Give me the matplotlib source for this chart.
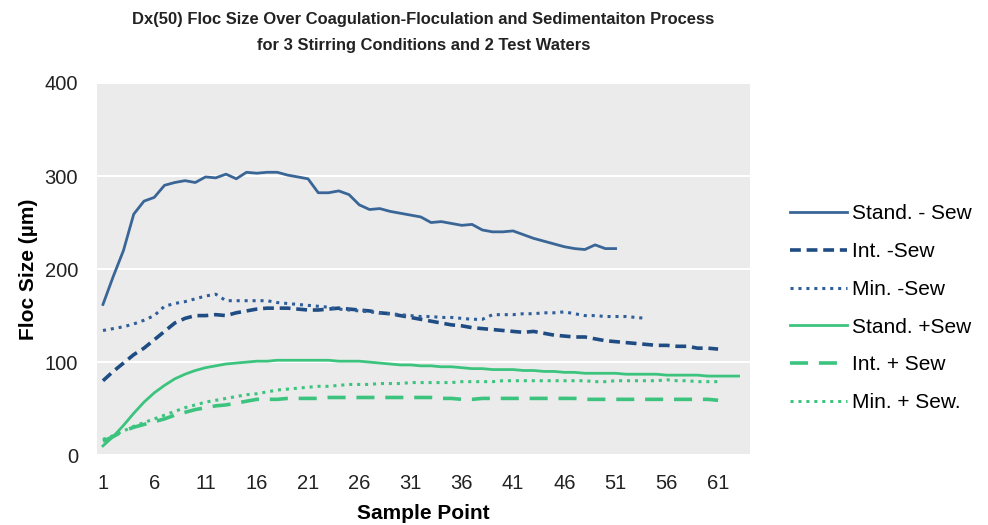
import matplotlib.pyplot as plt

plt.rcParams['font.family'] = ['Liberation Sans', 'DejaVu Sans']

# Dx(50) values, one list per series (sample point 1..n)
stand_minus = [162, 192, 220, 259, 273, 277, 290, 293, 295, 293,
               299, 298, 302, 297, 304, 303, 304, 304, 301, 299,
               297, 282, 282, 284, 280, 269, 264, 265, 262, 260,
               258, 256, 250, 251, 249, 247, 248, 242, 240, 240,
               241, 237, 233, 230, 227, 224, 222, 221, 226, 222, 222]
int_minus = [80, 90, 99, 108, 115, 124, 133, 142, 147, 150,
             150, 151, 150, 153, 155, 157, 158, 158, 158, 157,
             156, 156, 157, 158, 157, 156, 155, 153, 152, 150,
             148, 146, 144, 142, 140, 139, 137, 136, 135, 134,
             133, 132, 133, 131, 129, 128, 127, 127, 125, 123,
             122, 121, 120, 119, 118, 118, 117, 117, 115, 115, 114]
min_minus = [134, 136, 138, 141, 145, 150, 160, 163, 165, 168,
             171, 173, 166, 166, 166, 166, 166, 164, 163, 162,
             161, 160, 159, 157, 156, 155, 154, 153, 152, 151,
             150, 149, 149, 148, 148, 147, 146, 146, 151, 151,
             151, 152, 152, 153, 153, 154, 152, 150, 150, 149,
             149, 149, 148, 147]
stand_plus = [10, 20, 32, 45, 57, 67, 75, 82, 87, 91,
              94, 96, 98, 99, 100, 101, 101, 102, 102, 102,
              102, 102, 102, 101, 101, 101, 100, 99, 98, 97,
              97, 96, 96, 95, 95, 94, 93, 93, 92, 92,
              92, 91, 91, 90, 90, 89, 89, 88, 88, 88,
              88, 87, 87, 87, 87, 86, 86, 86, 86, 85,
              85, 85, 85]
int_plus = [15, 20, 26, 30, 33, 36, 39, 43, 46, 49,
            51, 53, 54, 56, 58, 60, 60, 60, 61, 61,
            61, 61, 62, 62, 62, 62, 62, 62, 62, 62,
            62, 62, 62, 61, 61, 60, 60, 61, 61, 61,
            61, 61, 61, 61, 61, 61, 61, 60, 60, 60,
            60, 60, 60, 60, 60, 60, 60, 60, 60, 60, 59]
min_plus = [17, 21, 26, 31, 35, 39, 43, 47, 51, 54,
            57, 59, 61, 63, 65, 66, 68, 70, 71, 72,
            73, 74, 74, 75, 76, 76, 76, 77, 77, 77,
            78, 78, 78, 78, 78, 79, 79, 79, 79, 80,
            80, 80, 80, 80, 80, 80, 80, 80, 79, 79,
            80, 80, 80, 80, 80, 81, 80, 80, 79, 79, 79]

xticks = list(range(1, 62, 5))

blue = '#3a6697'
navy = '#1f4c82'
blue_dot = '#2f5e99'
green = '#3cc47f'

fig = plt.figure(figsize=(9.88, 5.25), dpi=100)
ax = fig.add_axes([0.098, 0.133, 0.661, 0.709])
ax.set_facecolor('#ebebeb')

def xs(v):
    return range(1, len(v) + 1)

ax.plot(xs(stand_minus), stand_minus, color=blue, lw=2, label='Stand. - Sew')
ax.plot(xs(int_minus), int_minus, color=navy, lw=2.6, ls=(0, (3, 1.6)), label='Int. -Sew')
ax.plot(xs(min_minus), min_minus, color=blue_dot, lw=2.2, ls=(0, (1, 1.6)), label='Min. -Sew')
ax.plot(xs(stand_plus), stand_plus, color=green, lw=2, label='Stand. +Sew')
ax.plot(xs(int_plus), int_plus, color=green, lw=2.6, ls=(0, (5, 3)), label='Int. + Sew')
ax.plot(xs(min_plus), min_plus, color=green, lw=2.2, ls=(0, (1, 1.6)), label='Min. + Sew.')

ax.set_xlim(0.4, 64.1)
ax.set_ylim(0, 400)
ax.set_xticks(xticks)
ax.set_yticks([0, 100, 200, 300, 400])
ax.tick_params(length=0, labelsize=14.5, colors='#222222', pad=13.5)
ax.yaxis.grid(True, color='white', lw=1.5)
ax.set_axisbelow(True)
for s in ax.spines.values():
    s.set_visible(False)

ax.set_xlabel('Sample Point', fontsize=15, fontweight='bold', labelpad=8)
ax.set_ylabel('Floc Size (µm)', fontsize=15, fontweight='bold', labelpad=5)
ax.set_title('Dx(50) Floc Size Over Coagulation-Floculation and Sedimentaiton Process\n'
             'for 3 Stirring Conditions and 2 Test Waters',
             fontsize=11.9, fontweight='bold', color='#222222', pad=24,
             linespacing=1.85)

fig.legend(loc='center left', bbox_to_anchor=(0.80, 0.413), frameon=False,
           fontsize=15, handlelength=2.7, handletextpad=0.25, labelspacing=0.9,
           borderpad=0, borderaxespad=0)

fig.savefig('out.png', dpi=100)
